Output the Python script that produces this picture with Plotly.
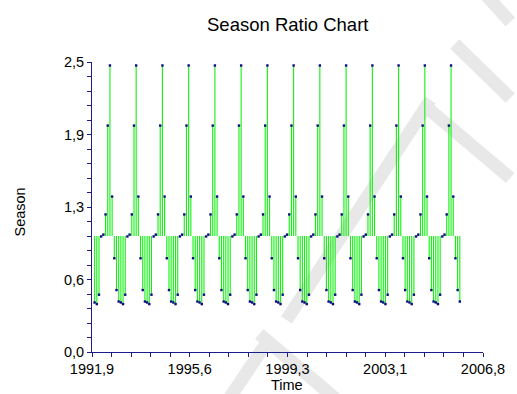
import plotly.graph_objects as go

# ---------------- data ----------------
years = list(range(1992, 2006))          # 1992 .. 2005
months = list(range(1, 13))               # Jan .. Dec

# monthly season ratios, one row of 12 per year (Jan..Dec)
season_ratio = [
    0.427, 0.413, 0.494, 0.996, 1.012, 1.186, 1.952, 2.470, 1.340, 0.808, 0.534, 0.435,  # 1992
    0.427, 0.413, 0.494, 0.996, 1.012, 1.186, 1.952, 2.470, 1.340, 0.808, 0.534, 0.435,  # 1993
    0.427, 0.413, 0.494, 0.996, 1.012, 1.186, 1.952, 2.470, 1.340, 0.808, 0.534, 0.435,  # 1994
    0.427, 0.413, 0.494, 0.996, 1.012, 1.186, 1.952, 2.470, 1.340, 0.808, 0.534, 0.435,  # 1995
    0.427, 0.413, 0.494, 0.996, 1.012, 1.186, 1.952, 2.470, 1.340, 0.808, 0.534, 0.435,  # 1996
    0.427, 0.413, 0.494, 0.996, 1.012, 1.186, 1.952, 2.470, 1.340, 0.808, 0.534, 0.435,  # 1997
    0.427, 0.413, 0.494, 0.996, 1.012, 1.186, 1.952, 2.470, 1.340, 0.808, 0.534, 0.435,  # 1998
    0.427, 0.413, 0.494, 0.996, 1.012, 1.186, 1.952, 2.470, 1.340, 0.808, 0.534, 0.435,  # 1999
    0.427, 0.413, 0.494, 0.996, 1.012, 1.186, 1.952, 2.470, 1.340, 0.808, 0.534, 0.435,  # 2000
    0.427, 0.413, 0.494, 0.996, 1.012, 1.186, 1.952, 2.470, 1.340, 0.808, 0.534, 0.435,  # 2001
    0.427, 0.413, 0.494, 0.996, 1.012, 1.186, 1.952, 2.470, 1.340, 0.808, 0.534, 0.435,  # 2002
    0.427, 0.413, 0.494, 0.996, 1.012, 1.186, 1.952, 2.470, 1.340, 0.808, 0.534, 0.435,  # 2003
    0.427, 0.413, 0.494, 0.996, 1.012, 1.186, 1.952, 2.470, 1.340, 0.808, 0.534, 0.435,  # 2004
    0.427, 0.413, 0.494, 0.996, 1.012, 1.186, 1.952, 2.470, 1.340, 0.808, 0.534, 0.435,  # 2005
]
baseline = 1.0

x_tick_labels = ["1991,9", "1995,6", "1999,3", "2003,1", "2006,8"]
y_tick_labels = ["0,0", "0,6", "1,3", "1,9", "2,5"]

title_text = "Season Ratio Chart"
x_title = "Time"
y_title = "Season"

# ---------------- build ----------------
time = [y + (m - 1) / 12.0 for y in years for m in months]

stem_x, stem_y = [], []
for t, v in zip(time, season_ratio):
    stem_x += [t, t, None]
    stem_y += [baseline, v, None]

X_MIN, X_MAX = 1991.9, 2006.8
Y_MIN, Y_MAX = 0.0, 2.5
x_major = [X_MIN + i * (X_MAX - X_MIN) / 4 for i in range(5)]
x_minor = [X_MIN + i * (X_MAX - X_MIN) / 20 for i in range(21)]
y_major = [Y_MIN + i * (Y_MAX - Y_MIN) / 4 for i in range(5)]
y_minor = [Y_MIN + i * (Y_MAX - Y_MIN) / 20 for i in range(21)]

NAVY = "#1c1c8c"
FONT = "Arial, Liberation Sans, sans-serif"

fig = go.Figure()
fig.add_trace(go.Scatter(
    x=stem_x, y=stem_y, mode="lines",
    line=dict(color="#11f011", width=1.1),
    hoverinfo="skip", showlegend=False,
))
fig.add_trace(go.Scatter(
    x=time, y=season_ratio, mode="markers",
    marker=dict(symbol="square", size=2.4, color="#0a0a80", line=dict(width=0)),
    showlegend=False,
))

W, H = 517, 394
L, R, T, B = 92, 23, 62, 42
pw, ph = W - L - R, H - T - B


def px(xp):
    return (xp - L) / pw


def py(yp):
    return (H - B - yp) / ph


# faint watermark strokes (decoration)
wm = [
    ((497, -5), (522, 22)),
    ((465, 44), (522, 98)),
    ((432, 104), (522, 178)),
    ((440, 100), (292, 320)),
    ((232, 400), (272, 342)),
    ((264, 334), (344, 400)),
]
shapes = []
for (x0, y0), (x1, y1) in wm:
    shapes.append(dict(type="line", xref="paper", yref="paper",
                       x0=px(x0), y0=py(y0), x1=px(x1), y1=py(y1),
                       line=dict(color="#e8e8e8", width=13), layer="below"))

axis_common = dict(
    showgrid=False, zeroline=False, showline=True, linecolor=NAVY, linewidth=1,
    ticks="outside", ticklen=4, tickwidth=1, tickcolor=NAVY,
    tickfont=dict(family=FONT, size=14.5, color="#000000"),
    mirror=False,
)

fig.update_layout(
    width=W, height=H,
    margin=dict(l=L, r=R, t=T, b=B, pad=0),
    paper_bgcolor="white", plot_bgcolor="rgba(0,0,0,0)",
    shapes=shapes,
    xaxis=dict(range=[X_MIN, X_MAX], tickmode="array", tickvals=x_major,
               ticktext=x_tick_labels,
               minor=dict(tickmode="array", tickvals=x_minor, ticks="outside",
                          ticklen=4, tickcolor=NAVY, showgrid=False),
               **axis_common),
    yaxis=dict(range=[Y_MIN, Y_MAX], tickmode="array", tickvals=y_major,
               ticktext=y_tick_labels,
               minor=dict(tickmode="array", tickvals=y_minor, ticks="outside",
                          ticklen=4, tickcolor=NAVY, showgrid=False),
               **axis_common),
    annotations=[
        dict(text=title_text, xref="paper", yref="paper",
             x=px(292.5), y=py(24.5), xanchor="center", yanchor="middle",
             showarrow=False, font=dict(family=FONT, size=18.5, color="#000000")),
        dict(text=x_title, xref="paper", yref="paper",
             x=px(292.5), y=py(394), xanchor="center", yanchor="bottom",
             showarrow=False, borderpad=0,
             font=dict(family=FONT, size=14.5, color="#000000")),
        dict(text=y_title, xref="paper", yref="paper",
             x=px(17.5), y=py(212), xanchor="center", yanchor="middle",
             textangle=-90,
             showarrow=False, font=dict(family=FONT, size=14.5, color="#000000")),
    ],
)

fig.write_html("out.html")
